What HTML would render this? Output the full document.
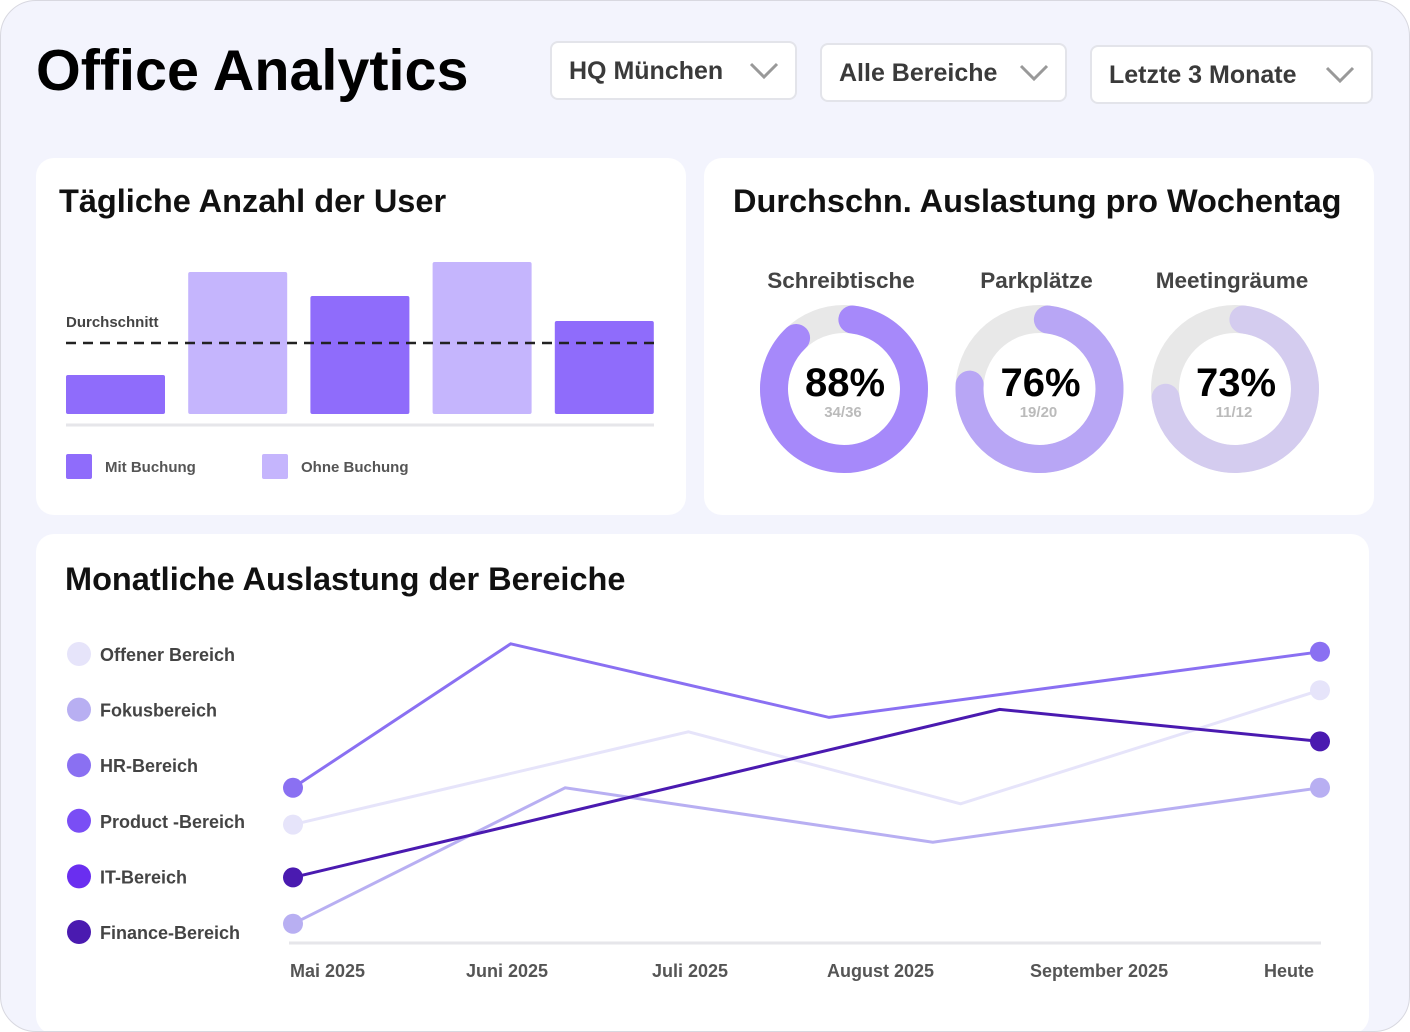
<!DOCTYPE html>
<html><head><meta charset="utf-8"><style>
body{margin:0;width:1410px;height:1019px;background:#fff;font-family:"Liberation Sans",sans-serif;overflow:hidden}
#frame{position:absolute;left:0;top:0;width:1408px;height:1030px;background:#f3f4fd;border:1px solid #d8d8e0;border-radius:36px;overflow:hidden}
.card{position:absolute;background:#fff;border-radius:18px}
.dd{position:absolute;background:#fff;border:2px solid #e3e4ea;border-radius:8px;font-weight:bold;font-size:25px;color:#3a3a3a;box-sizing:border-box;padding:0 0 0 17px;line-height:56px}
.dd svg{position:absolute;right:16px;top:18px}
h2{position:absolute;margin:0;font-size:32.5px;font-weight:bold;color:#111;white-space:nowrap}
</style></head><body>
<div id="frame">
<div style="position:absolute;left:35px;top:37px;font-size:57.5px;font-weight:bold;color:#000;white-space:nowrap">Office Analytics</div>
<div class="dd" style="left:549px;top:40px;width:247px;height:59px">HQ München<svg width="30" height="20"><path d="M2 3 L15 16 L28 3" fill="none" stroke="#999" stroke-width="3"/></svg></div>
<div class="dd" style="left:819px;top:42px;width:247px;height:59px">Alle Bereiche<svg width="30" height="20"><path d="M2 3 L15 16 L28 3" fill="none" stroke="#999" stroke-width="3"/></svg></div>
<div class="dd" style="left:1089px;top:44px;width:283px;height:59px">Letzte 3 Monate<svg width="30" height="20"><path d="M2 3 L15 16 L28 3" fill="none" stroke="#999" stroke-width="3"/></svg></div>

<div class="card" style="left:35px;top:157px;width:650px;height:357px">
<h2 style="left:23px;top:25px">Tägliche Anzahl der User</h2>
<svg id="bars" width="650" height="357" style="position:absolute;left:0;top:0"></svg>
</div>
<div class="card" style="left:703px;top:157px;width:670px;height:357px">
<h2 style="left:29px;top:25px">Durchschn. Auslastung pro Wochentag</h2>
<svg id="donuts" width="670" height="357" style="position:absolute;left:0;top:0"></svg>
</div>
<div class="card" style="left:35px;top:533px;width:1333px;height:500px">
<h2 style="left:29px;top:27px">Monatliche Auslastung der Bereiche</h2>
<svg id="lines" width="1333" height="500" style="position:absolute;left:0;top:0"></svg>
</div>
</div>
<script>
const NS="http://www.w3.org/2000/svg";
function mk(p,t,a,txt){const e=document.createElementNS(NS,t);for(const k in a)e.setAttribute(k,a[k]);if(txt!=null)e.textContent=txt;p.appendChild(e);return e;}

/* bar chart */
const barValues=[39,142,118,152,93];
const barTypes=["mit","ohne","mit","ohne","mit"];
const barAverage=71;
const barLegend=["Mit Buchung","Ohne Buchung"];
(function(){
const s=document.getElementById('bars');
const base=256,scale=1,x0=30,slot=122.2,bw=99;
const y=v=>base-v*scale;
barValues.forEach((v,i)=>{
 const r=mk(s,'rect',{x:x0+i*slot,y:y(v),width:bw,height:v*scale,rx:2,fill:barTypes[i]=="mit"?"#8f6cfb":"#c5b5fd"});
 
 
});
mk(s,'line',{x1:30,x2:618,y1:267,y2:267,stroke:"#e6e6ea","stroke-width":3});
const al=mk(s,'line',{x1:30,x2:618,y1:y(barAverage),y2:y(barAverage),stroke:"#222","stroke-width":2.5,"stroke-dasharray":"10 7"});


const at=mk(s,'text',{x:30,y:y(barAverage)-16,"font-size":15,"font-weight":"bold",fill:"#444"},"Durchschnitt");


barLegend.forEach((t,i)=>{
 const g=mk(s,'g',{});
 
 
 mk(g,'rect',{x:30+i*196,y:296,width:26,height:25,rx:2,fill:i==0?"#8f6cfb":"#c5b5fd"});
 mk(g,'text',{x:69+i*196,y:314,"font-size":15,"font-weight":"bold",fill:"#555"},t);
});
})();

/* donuts */
const donutLabels=["Schreibtische","Parkplätze","Meetingräume"];
const donutPercent=[88,76,73];
const donutCounts=["34/36","19/20","11/12"];
const donutColors=["#a689fa","#b8a6f5","#d4ccef"];
(function(){
const s=document.getElementById('donuts');
const r=70,sw=28,cy=231;
donutLabels.forEach((l,i)=>{
 const cx=140+i*195.5;
 const g=mk(s,'g',{});
 
 
 mk(g,'text',{x:cx-3,y:130,"text-anchor":"middle","font-size":22.5,"font-weight":"bold",fill:"#444"},l);
 mk(g,'circle',{cx:cx,cy:cy,r:r,fill:"none",stroke:"#e8e8e8","stroke-width":sw});
 const a0=-Math.PI/2+0.12,a1=a0+2*Math.PI*donutPercent[i]/100-0.12;
 const large=(a1-a0)>Math.PI?1:0;
 mk(g,'path',{d:`M${cx+r*Math.cos(a0)} ${cy+r*Math.sin(a0)} A${r} ${r} 0 ${large} 1 ${cx+r*Math.cos(a1)} ${cy+r*Math.sin(a1)}`,fill:"none",stroke:donutColors[i],"stroke-width":sw,"stroke-linecap":"round"});
 mk(g,'text',{x:cx+1,y:238,"text-anchor":"middle","font-size":40,"font-weight":"bold",fill:"#000"},donutPercent[i]+"%");
 mk(g,'text',{x:cx-1,y:259,"text-anchor":"middle","font-size":15,"font-weight":"bold",fill:"#bbb"},donutCounts[i]);
});
})();

/* line chart */
const seriesNames=["Offener Bereich","Fokusbereich","HR-Bereich","Product -Bereich","IT-Bereich","Finance-Bereich"];
const seriesColors=["#e6e4fa","#b8aff2","#8a70f2","#7a4ef5","#6a2ef0","#4a1ab0"];
const monthLabels=["Mai 2025","Juni 2025","Juli 2025","August 2025","September 2025","Heute"];
const offenerX=[0,38.5,65,100], offenerY=[37,66,43.5,79];
const fokusX=[0,26.5,62.3,100], fokusY=[6,48.5,31.5,48.5];
const hrX=[0,21.2,52.2,100], hrY=[48.5,93.5,70.5,91];
const financeX=[0,68.8,100], financeY=[20.5,73,63];
(function(){
const s=document.getElementById('lines');
const L=257,R=1284,B=409,T=89;
const xs=v=>L+(R-L)*v/100, ys=v=>B-(B-T)*v/100;
mk(s,'line',{x1:253,x2:1285,y1:B,y2:B,stroke:"#e6e6ea","stroke-width":3});
const labX=[254,430,616,791,994,1228];
monthLabels.forEach((m,i)=>{
 const t=mk(s,'text',{x:labX[i],y:443,"font-size":18,"font-weight":"bold",fill:"#555"},m);
 
 
});
seriesNames.forEach((n,i)=>{
 const g=mk(s,'g',{});
 
 
 mk(g,'circle',{cx:43,cy:120+i*55.6,r:12,fill:seriesColors[i]});
 mk(g,'text',{x:64,y:127+i*55.6,"font-size":18,"font-weight":"bold",fill:"#444"},n);
});
const series=[[offenerX,offenerY,"#e6e4fa","offener"],[fokusX,fokusY,"#b8aff2","fokus"],[hrX,hrY,"#8a70f2","hr"],[financeX,financeY,"#4a1ab0","finance"]];
series.forEach(([X,Y,c,n])=>{
 const p=mk(s,'polyline',{points:X.map((x,i)=>xs(x)+","+ys(Y[i])).join(" "),fill:"none",stroke:c,"stroke-width":3});
 
 
 [0,X.length-1].forEach(k=>{
  const d=mk(s,'circle',{cx:xs(X[k]),cy:ys(Y[k]),r:10,fill:c});
  
  
 });
});
})();
</script>
</body></html>
